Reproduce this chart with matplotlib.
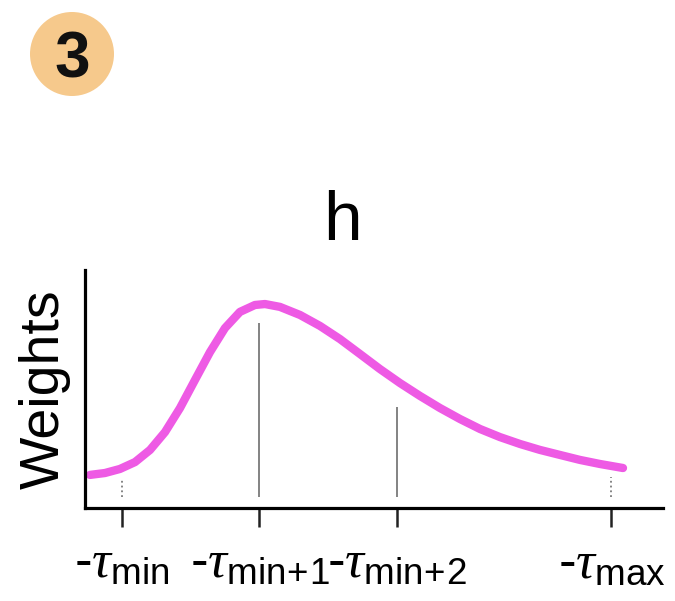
import matplotlib
matplotlib.use("Agg")
import matplotlib.pyplot as plt
from matplotlib.patches import Ellipse

plt.rcParams['font.family'] = ['Liberation Sans', 'DejaVu Sans']
plt.rcParams['mathtext.fontset'] = 'custom'
plt.rcParams['mathtext.it'] = 'Liberation Serif:italic'
plt.rcParams['mathtext.rm'] = 'Liberation Sans'
plt.rcParams['mathtext.sf'] = 'Liberation Sans'

# data
curve_x = [0.767, 0.876, 0.985, 1.095, 1.204, 1.313, 1.422, 1.531, 1.640, 1.749,
           1.858, 1.967, 2.040, 2.149, 2.295, 2.440, 2.585, 2.731, 2.876, 3.022,
           3.167, 3.313, 3.458, 3.604, 3.749, 3.895, 4.040, 4.185, 4.331, 4.476,
           4.644]
curve_y = [0.139, 0.147, 0.164, 0.193, 0.244, 0.319, 0.420, 0.538, 0.655, 0.756,
           0.824, 0.853, 0.857, 0.845, 0.811, 0.765, 0.710, 0.647, 0.584, 0.525,
           0.471, 0.420, 0.374, 0.332, 0.298, 0.269, 0.244, 0.223, 0.202, 0.185,
           0.168]
tick_pos = [1.0, 2.0, 3.0, 4.56]
tick_labels = [r'-$\tau_{\mathrm{min}}$', r'-$\tau_{\mathrm{min\!+\!1}}$',
               r'-$\tau_{\mathrm{min\!+\!2}}$', r'-$\tau_{\mathrm{max}}$']
stem_top = [0.118, 0.777, 0.424, 0.130]
stem_bottom = 0.046
stem_style = [':', '-', '-', ':']

fig = plt.figure(figsize=(6.75, 6.01), dpi=100)
ax = fig.add_axes([85/675, 93/601, 578/675, 238/601])

for xp, top, ls in zip(tick_pos, stem_top, stem_style):
    ax.plot([xp, xp], [stem_bottom, top], color='#7a7a7a', lw=1.3, ls=ls,
            solid_capstyle='butt')

ax.plot(curve_x, curve_y, color='#EE5AE4', lw=6, solid_capstyle='round',
        solid_joinstyle='round')

ax.set_xlim(0.731, 4.935)
ax.set_ylim(0, 1)
ax.set_xticks(tick_pos)
ax.set_xticklabels(tick_labels, fontsize=38)
ax.set_yticks([])
ax.tick_params(axis='x', direction='out', length=14, width=1.8, pad=8, color='#222222')
for s in ['top', 'right']:
    ax.spines[s].set_visible(False)
for s in ['left', 'bottom']:
    ax.spines[s].set_linewidth(2.3)
    ax.spines[s].set_color('black')

ax.set_ylabel('Weights', fontsize=40)
ax.yaxis.set_label_coords(-14/578, 0.5)

fig.text(342/675, 1 - 240/601, 'h', fontsize=50, ha='center', va='baseline')

fig.add_artist(Ellipse((72/675, 1 - 54/601), width=84/675, height=84/601,
                       transform=fig.transFigure, facecolor='#F6C98C',
                       edgecolor='none'))
fig.text(72/675, 1 - 54/601, '3', fontsize=46, fontweight='bold',
         ha='center', va='center_baseline', color='#111111')

fig.savefig('out.png', dpi=100)
